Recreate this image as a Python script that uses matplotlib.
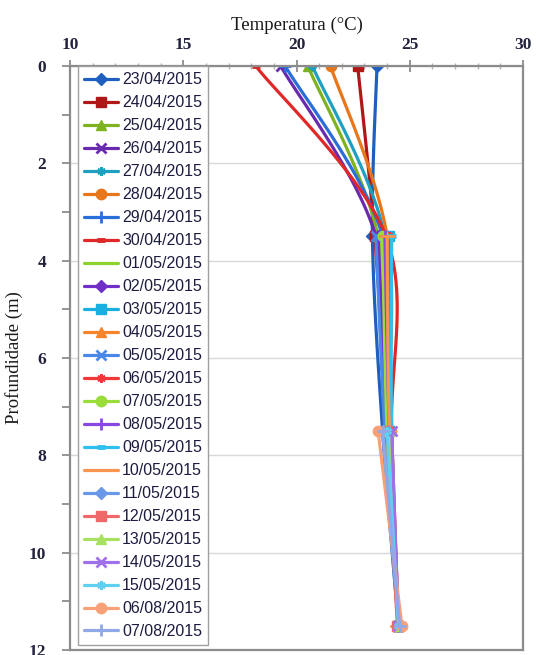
import numpy as np
import matplotlib.pyplot as plt
from matplotlib.ticker import MultipleLocator

# temperature profiles (°C) at each sampling depth, one entry per date
dates = ['23/04/2015', '24/04/2015', '25/04/2015', '26/04/2015', '27/04/2015',
         '28/04/2015', '29/04/2015', '30/04/2015', '01/05/2015', '02/05/2015',
         '03/05/2015', '04/05/2015', '05/05/2015', '06/05/2015', '07/05/2015',
         '08/05/2015', '09/05/2015', '10/05/2015', '11/05/2015', '12/05/2015',
         '13/05/2015', '14/05/2015', '15/05/2015', '06/08/2015', '07/08/2015']
depths = [0.0, 3.5, 7.5, 11.5]
nan = np.nan

temp_0m = [23.55, 22.7, 20.5, 19.3, 20.7, 21.5, 19.5, 18.2,
           nan, nan, nan, nan, nan, nan, nan, nan, nan, nan,
           nan, nan, nan, nan, nan, nan, nan]
temp_3_5m = [23.35, 23.45, 23.6, 23.5, 23.9, 24.0, 23.8, 23.95,
             23.7, 23.6, 24.1, 24.0, 23.5, 24.1, 23.8, 23.9, 24.2, 24.0,
             nan, nan, nan, nan, nan, nan, nan]
temp_7_5m = [23.8, 24.0, 23.9, 23.9, 24.0, 24.1, 24.0, 24.2,
             24.0, 24.0, 24.1, 24.1, 23.9, 24.2, 24.0, 24.1, 24.2, 24.1,
             23.8, 24.0, 24.1, 24.2, 24.0, 23.6, 23.8]
temp_11_5m = [24.5, 24.5, 24.5, 24.5, 24.5, 24.5, 24.5, 24.5,
              24.5, 24.5, 24.5, 24.5, 24.5, 24.5, 24.5, 24.5, 24.5, 24.5,
              24.5, 24.45, 24.5, 24.5, 24.5, 24.65, 24.55]

colors = ['#1f5fc0', '#b01818', '#7db320', '#6a2ab0', '#20a0c0', '#e8761a',
          '#2a6ed8', '#e02828', '#8cd22c', '#7030c8', '#18b0e0', '#f5842a',
          '#4a88e8', '#f03838', '#9adc3a', '#8848e0', '#30c0f0', '#f89450',
          '#6a98e8', '#f06868', '#a8e060', '#a070e8', '#60d0f0', '#f8a078',
          '#90a8e8']
marker_cycle = ['D', 's', '^', 'x', (6, 2, 0), 'o', '+', '_', '_']
marker_size = {'D': 6, 's': 7.5, '^': 7.5, 'x': 7, 'o': 7.5, '+': 8, '_': 6}


def smooth_curve(x, y, n=30):
    # Bezier smoothing through every point (Excel-like "smoothed line")
    p = np.column_stack([x, y])
    m = len(p)
    pts = []
    t = np.linspace(0, 1, n)[:-1, None]
    for i in range(m - 1):
        p0 = p[i - 1] if i > 0 else p[i]
        p3 = p[i + 2] if i + 2 < m else p[i + 1]
        c1 = p[i] + (p[i + 1] - p0) / 6.0
        c2 = p[i + 1] - (p3 - p[i]) / 6.0
        seg = ((1 - t) ** 3) * p[i] + 3 * ((1 - t) ** 2) * t * c1 \
            + 3 * (1 - t) * t ** 2 * c2 + t ** 3 * p[i + 1]
        pts.append(seg)
    pts.append(p[-1:])
    pts = np.vstack(pts)
    marks = [i * (n - 1) for i in range(m)]
    return pts[:, 0], pts[:, 1], marks


fig = plt.figure(figsize=(5.37, 6.55), dpi=100)
ax = fig.add_axes([0.1304, 0.0076, 0.8436, 0.8916])

profiles = np.array([temp_0m, temp_3_5m, temp_7_5m, temp_11_5m]).T
z = np.array(depths)
for k, label in enumerate(dates):
    row = profiles[k]
    ok = ~np.isnan(row)
    cx, cy, marks = smooth_curve(row[ok], z[ok])
    mk = marker_cycle[k % 9]
    long_dash = (k % 9 == 8)
    ms = 6 if not isinstance(mk, str) else marker_size[mk]
    if long_dash:
        ms = 11
    mew = 2.0 if mk in ('x', '+', '_') or not isinstance(mk, str) else 1.0
    if mk == '_' and not long_dash:
        mew = 3.5
    ax.plot(cx, cy, color=colors[k], lw=2.3, marker=mk, markevery=marks,
            markersize=ms, markeredgewidth=mew, markerfacecolor=colors[k],
            markeredgecolor=colors[k], label=label, solid_capstyle='round')

ax.set_xlim(10, 30)
ax.set_ylim(12, 0)
ax.xaxis.tick_top()
ax.xaxis.set_label_position('top')
ax.xaxis.set_major_locator(MultipleLocator(5))
ax.xaxis.set_minor_locator(MultipleLocator(1))
ax.yaxis.set_major_locator(MultipleLocator(2))
ax.yaxis.set_minor_locator(MultipleLocator(1))

ax.tick_params(axis='x', which='major', direction='inout', length=9, width=1.3,
               color='#8c8c8c', pad=5)
ax.tick_params(axis='x', which='minor', direction='inout', length=4, width=1,
               color='#b0b0b0')
ax.tick_params(axis='y', which='both', direction='out', length=6, width=1.3,
               color='#8c8c8c', pad=11)

for lab in ax.get_xticklabels() + ax.get_yticklabels():
    lab.set_fontfamily('Liberation Serif')
    lab.set_fontsize(12.5)
    lab.set_fontweight('bold')
    lab.set_color('#22223c')

for s in ax.spines.values():
    s.set_color('#8c8c8c')
    s.set_linewidth(1.6)

ax.grid(axis='y', which='major', color='#d9d9d9', lw=1)
ax.set_axisbelow(True)

ax.set_xlabel('Temperatura (°C)', family='Liberation Serif', fontsize=13.5,
              color='#1a1a1a', labelpad=5)
ax.set_ylabel('Profundidade (m)', family='Liberation Serif', fontsize=13.5,
              color='#1a1a1a', labelpad=4)

leg = ax.legend(loc='upper left', bbox_to_anchor=(0.0177, 1.0),
                borderaxespad=0, fancybox=False, framealpha=1,
                edgecolor='#a0a0a0', handlelength=2.1, handletextpad=0.25,
                labelspacing=0.5, borderpad=0.4,
                prop={'family': 'Liberation Sans', 'size': 11.5})
leg.get_frame().set_linewidth(1.0)
for txt in leg.get_texts():
    txt.set_color('#1c1c40')

fig.savefig('out.png', dpi=100)
